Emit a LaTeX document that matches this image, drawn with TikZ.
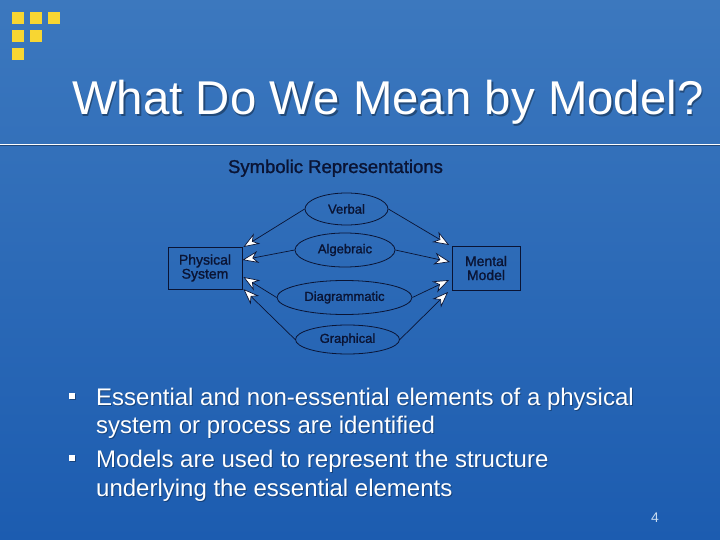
\documentclass[tikz,border=0pt]{standalone}
\usepackage{fontspec}
\setmainfont{Liberation Sans}
\newfontfamily\diagfont[FakeBold=1.3]{Liberation Sans}
\usetikzlibrary{shapes.geometric,arrows.meta}
\definecolor{bgtop}{RGB}{60,120,190}
\definecolor{bgbot}{RGB}{28,92,176}
\definecolor{ylw}{RGB}{248,214,50}
\definecolor{ink}{RGB}{10,20,52}
\definecolor{pgnum}{RGB}{200,220,240}
\tikzset{
  sq/.style={fill=ylw,draw=none},
  ttl/.style={text=white,font=\fontsize{47.4}{50}\selectfont,inner sep=0pt,anchor=base west},
  shd/.style={text=black,opacity=0.35,font=\fontsize{47.4}{50}\selectfont,inner sep=0pt,anchor=base west},
  body/.style={text=white,font=\fontsize{24}{28}\selectfont,inner sep=0pt,anchor=base west},
  bodyshd/.style={text=black,opacity=0.3,font=\fontsize{24}{28}\selectfont,inner sep=0pt,anchor=base west},
  ell/.style={ellipse,draw=ink,line width=0.8pt,inner sep=0pt,text=ink,font=\diagfont\fontsize{13}{15}\selectfont},
  box/.style={rectangle,draw=ink,line width=0.8pt,inner sep=0pt,text=ink,align=center,font=\diagfont\fontsize{14}{14}\selectfont},
  arr/.style={draw=ink,line width=0.7pt,-{Stealth[length=16pt,width=12pt,inset=5pt,fill=white]}},
}
\begin{document}
\begin{tikzpicture}[x=1pt,y=-1pt]
\useasboundingbox (0,0) rectangle (720,540);
\shade[top color=bgtop,bottom color=bgbot] (0,0) rectangle (720,540);
% logo squares
\fill[sq] (12,12) rectangle (24,24);
\fill[sq] (30,12) rectangle (42,24);
\fill[sq] (48,12) rectangle (60,24);
\fill[sq] (12,30) rectangle (24,42);
\fill[sq] (30,30) rectangle (42,42);
\fill[sq] (12,48) rectangle (24,60);
% title
\node[shd] (titleshd) at (73.5,116.5) {What Do We Mean by Model?};
\node[ttl] (title) at (72,115) {What Do We Mean by Model?};
% rule
\draw[black,opacity=0.35,line width=1pt] (0,146) -- (720,146);
\draw[white,line width=1.2pt] (0,144.5) -- (720,144.5);
% diagram
\node[text=ink,font=\diagfont\fontsize{18.5}{20}\selectfont,inner sep=0pt,anchor=base] (sym) at (335.5,173) {Symbolic Representations};
\node[ell,minimum width=83,minimum height=32] (verbal) at (346.5,209) {Verbal};
\node[ell,minimum width=100,minimum height=34] (alg) at (345,250) {Algebraic};
\node[ell,minimum width=135,minimum height=34] (diag) at (344.5,297.5) {Diagrammatic};
\node[ell,minimum width=104,minimum height=29] (graph) at (347.5,339.5) {Graphical};
\node[box,minimum width=74,minimum height=42] (phys) at (205,268) {Physical\\System};
\node[box,minimum width=68,minimum height=44] (ment) at (486,268) {Mental\\Model};
% arrows to physical system
\draw[arr] (verbal.west) -- ([xshift=1pt,yshift=21pt]phys.east);
\draw[arr] (alg.west) -- ([xshift=0pt,yshift=8pt]phys.east);
\draw[arr] (diag.west) -- ([xshift=1pt,yshift=-9pt]phys.east);
\draw[arr] (graph.west) -- ([xshift=1pt,yshift=-21pt]phys.east);
% arrows to mental model
\draw[arr] (verbal.east) -- ([xshift=-2.5pt,yshift=23pt]ment.west);
\draw[arr] (alg.east) -- ([xshift=-1.5pt,yshift=6pt]ment.west);
\draw[arr] (diag.east) -- ([xshift=-2.5pt,yshift=-12pt]ment.west);
\draw[arr] (graph.east) -- ([xshift=-3.5pt,yshift=-24pt]ment.west);
% bullets
\fill[black,opacity=0.3] (70,394) rectangle (76,400);
\fill[white] (69,393) rectangle (75,399);
\fill[black,opacity=0.3] (70,456) rectangle (76,462);
\fill[white] (69,455) rectangle (75,461);
\node[bodyshd] (l1s) at (97,406) {Essential and non-essential elements of a physical};
\node[body] (l1) at (96,405) {Essential and non-essential elements of a physical};
\node[bodyshd] (l2s) at (97,434) {system or process are identified};
\node[body] (l2) at (96,433) {system or process are identified};
\node[bodyshd] (l3s) at (97,468) {Models are used to represent the structure};
\node[body] (l3) at (96,467) {Models are used to represent the structure};
\node[bodyshd] (l4s) at (97,497) {underlying the essential elements};
\node[body] (l4) at (96,496) {underlying the essential elements};
% page number
\node[text=pgnum,font=\fontsize{14}{14}\selectfont,inner sep=0pt,anchor=base west] (pg) at (651,522) {4};
\end{tikzpicture}
\end{document}
